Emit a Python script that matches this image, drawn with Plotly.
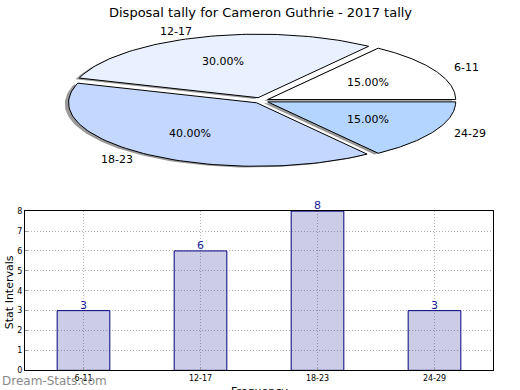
import numpy as np
import plotly.graph_objects as go

# ---- data ----
categories = ["6-11", "12-17", "18-23", "24-29"]
counts = [3, 6, 8, 3]
pie_colors = ["#ffffff", "#e9f0ff", "#c4d7ff", "#b4d5ff"]
explode = [0.04, 0.05, 0.04, 0.04]
title_text = "Disposal tally for Cameron Guthrie - 2017 tally"
y_title = "Stat Intervals"
x_title = "Frequency"
watermark = "Dream-Stats.com"

W, H = 520, 390
FONT = "DejaVu Sans"

fig = go.Figure()

# ---- pie (elliptical, drawn on its own axes) ----
cx_px, cy_px, rx_px, ry_px = 261, 99, 188, 65
total = sum(counts)
fracs = [c / total for c in counts]
starts = np.cumsum([0] + fracs[:-1]) * 360
wedges = []
for i, f in enumerate(fracs):
    t1 = starts[i]
    t2 = t1 + f * 360
    mid = np.radians((t1 + t2) / 2)
    dx, dy = explode[i] * np.cos(mid), explode[i] * np.sin(mid)
    ts = np.radians(np.linspace(t1, t2, 80))
    xs = np.concatenate([[dx], dx + np.cos(ts), [dx]])
    ys = np.concatenate([[dy], dy + np.sin(ts), [dy]])
    wedges.append((xs, ys, mid, dx, dy))

# shadows
for xs, ys, mid, dx, dy in wedges:
    fig.add_trace(go.Scatter(x=xs - 0.02, y=ys - 0.02, mode="lines", fill="toself",
                             fillcolor="rgba(0,0,0,0.4)", line=dict(width=0),
                             xaxis="x2", yaxis="y2", hoverinfo="skip", showlegend=False))
for i, (xs, ys, mid, dx, dy) in enumerate(wedges):
    fig.add_trace(go.Scatter(x=xs, y=ys, mode="lines", fill="toself",
                             fillcolor=pie_colors[i], line=dict(color="#000000", width=1),
                             xaxis="x2", yaxis="y2", hoverinfo="skip", showlegend=False))

annotations = []
for i, (xs, ys, mid, dx, dy) in enumerate(wedges):
    lx = dx + 1.1 * np.cos(mid)
    ly = dy + 1.1 * np.sin(mid)
    annotations.append(dict(x=lx, y=ly, xref="x2", yref="y2", text=categories[i],
                            showarrow=False, xanchor="left" if lx > 0 else "right",
                            yanchor="middle", font=dict(family=FONT, size=11, color="#000")))
    px = dx + 0.6 * np.cos(mid)
    py = dy + 0.6 * np.sin(mid)
    annotations.append(dict(x=px, y=py, xref="x2", yref="y2",
                            text=f"{fracs[i]*100:.2f}%", showarrow=False,
                            xanchor="center", yanchor="middle",
                            font=dict(family=FONT, size=11, color="#000")))

# ---- bars ----
fig.add_trace(go.Bar(x=categories, y=counts, width=0.45,
                     marker=dict(color="rgba(0,0,128,0.2)", line=dict(color="#000080", width=1)),
                     hoverinfo="skip", showlegend=False, xaxis="x", yaxis="y"))
for c, v in zip(categories, counts):
    annotations.append(dict(x=c, y=v, xref="x", yref="y", text=str(v), showarrow=False,
                            xanchor="center", yanchor="bottom", yshift=-3,
                            font=dict(family=FONT, size=11, color="#1a1a9a")))

annotations.append(dict(x=0.5, y=1 - 9 / H, xref="paper", yref="paper", text=title_text,
                        showarrow=False, xanchor="center", yanchor="middle",
                        font=dict(family=FONT, size=13, color="#000")))
annotations.append(dict(x=259 / W, y=1 - 397 / H, xref="paper", yref="paper", text=x_title,
                        showarrow=False, xanchor="center", yanchor="middle",
                        font=dict(family=FONT, size=11, color="#000")))
annotations.append(dict(x=9 / W, y=1 - 295 / H, xref="paper", yref="paper", text=y_title,
                        showarrow=False, textangle=-90, xanchor="center", yanchor="middle",
                        font=dict(family=FONT, size=11, color="#000")))
annotations.append(dict(x=0, y=1 - 386 / H, xref="paper", yref="paper", text=watermark,
                        showarrow=False, xanchor="left", yanchor="middle",
                        font=dict(family=FONT, size=12, color="#8a8a8a")))

fig.update_layout(
    width=W, height=H, autosize=False,
    margin=dict(l=0, r=0, t=0, b=0),
    paper_bgcolor="white", plot_bgcolor="rgba(0,0,0,0)",
    showlegend=False,
    annotations=annotations,
    xaxis=dict(domain=[25 / W, 493 / W], range=[-0.5, 3.5], type="category",
               showline=True, linecolor="#000", linewidth=1, mirror=True,
               showgrid=True, gridcolor="#b4b4b4", griddash="1px,2px", gridwidth=1,
               ticks="inside", ticklen=3, tickcolor="#999",
               tickfont=dict(family=FONT, size=8, color="#000"), zeroline=False,
               anchor="y"),
    yaxis=dict(domain=[(H - 375) / H, (H - 212) / H], range=[0, 8], dtick=1,
               showline=True, linecolor="#000", linewidth=1, mirror=True,
               showgrid=True, gridcolor="#b4b4b4", griddash="1px,2px", gridwidth=1,
               ticks="inside", ticklen=3, tickcolor="#999",
               tickfont=dict(family=FONT, size=8, color="#000"), zeroline=False,
               anchor="x"),
    xaxis2=dict(domain=[0, 1], range=[-cx_px / rx_px, (W - cx_px) / rx_px],
                visible=False, anchor="y2", fixedrange=True),
    yaxis2=dict(domain=[0, 1], range=[-(H - cy_px) / ry_px, cy_px / ry_px],
                visible=False, anchor="x2", fixedrange=True),
)

post = (
    "document.documentElement.style.margin='0';"
    "document.documentElement.style.overflow='hidden';"
    "document.body.style.margin='0';document.body.style.padding='0';"
    "document.body.style.overflow='hidden';"
    "var d=document.getElementById('{plot_id}');"
    "d.style.position='absolute';d.style.top='0px';d.style.left='0px';"
)
fig.write_html("out.html", config={"displayModeBar": False}, post_script=post)
